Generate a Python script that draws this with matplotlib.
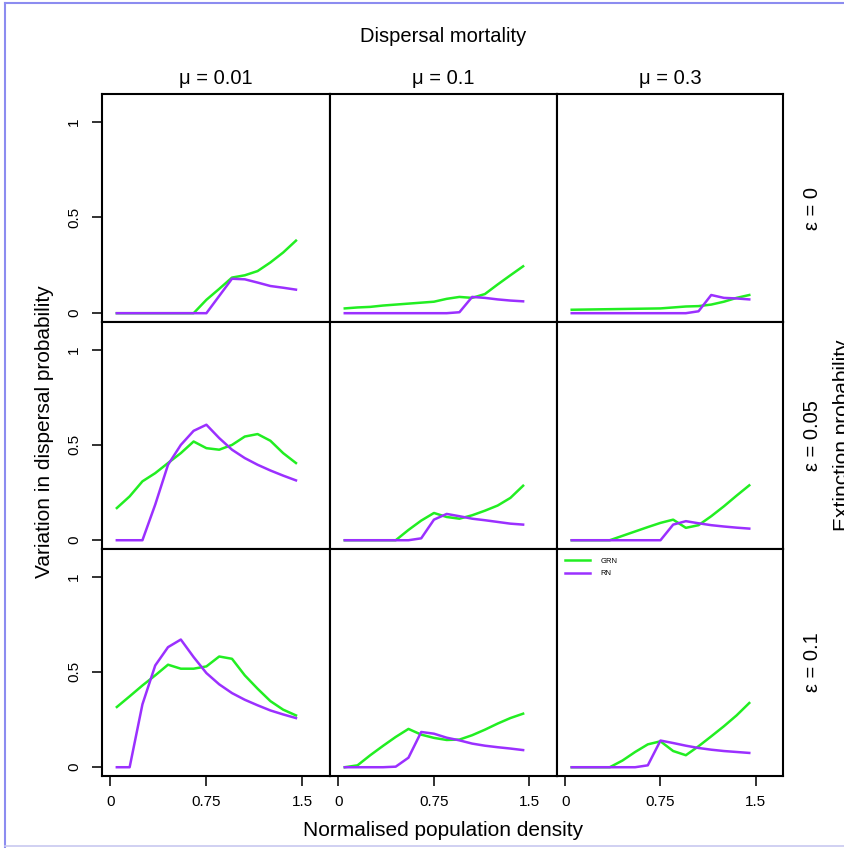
import matplotlib.pyplot as plt
from matplotlib.lines import Line2D

plt.rcParams['font.family'] = ['Liberation Sans', 'DejaVu Sans']

# density values where each curve was evaluated
density = [0.05, 0.15, 0.25, 0.35, 0.45, 0.55, 0.65, 0.75, 0.85, 0.95, 1.05, 1.15, 1.25, 1.35, 1.45]

mu_labels = ['μ = 0.01', 'μ = 0.1', 'μ = 0.3']
eps_labels = ['ε = 0', 'ε = 0.05', 'ε = 0.1']
x_ticks = [0, 0.75, 1.5]
x_ticklabels = ['0', '0.75', '1.5']
y_ticks = [0, 0.5, 1]
y_ticklabels = ['0', '0.5', '1']

# extinction probability 0
grn_e0_mu001 = [0, 0, 0, 0, 0, 0, 0, 0.07, 0.127, 0.186, 0.198, 0.22, 0.265, 0.317, 0.379]
rn_e0_mu001 = [0, 0, 0, 0, 0, 0, 0, 0, 0.09, 0.18, 0.177, 0.16, 0.142, 0.133, 0.123]
grn_e0_mu01 = [0.025, 0.03, 0.033, 0.04, 0.045, 0.05, 0.055, 0.06, 0.075, 0.085, 0.08, 0.10, 0.15, 0.198, 0.245]
rn_e0_mu01 = [0, 0, 0, 0, 0, 0, 0, 0, 0, 0.005, 0.085, 0.08, 0.072, 0.066, 0.062]
grn_e0_mu03 = [0.018, 0.019, 0.02, 0.021, 0.022, 0.023, 0.024, 0.025, 0.03, 0.035, 0.037, 0.045, 0.06, 0.08, 0.095]
rn_e0_mu03 = [0, 0, 0, 0, 0, 0, 0, 0, 0, 0, 0.01, 0.095, 0.08, 0.077, 0.072]

# extinction probability 0.05
grn_e005_mu001 = [0.169, 0.23, 0.309, 0.352, 0.405, 0.457, 0.518, 0.483, 0.475, 0.5, 0.544, 0.557, 0.522, 0.457, 0.405]
rn_e005_mu001 = [0, 0, 0, 0.187, 0.396, 0.5, 0.574, 0.606, 0.536, 0.475, 0.431, 0.396, 0.366, 0.339, 0.314]
grn_e005_mu01 = [0, 0, 0, 0, 0, 0.054, 0.103, 0.143, 0.122, 0.113, 0.131, 0.155, 0.182, 0.222, 0.286]
rn_e005_mu01 = [0, 0, 0, 0, 0, 0, 0.01, 0.108, 0.138, 0.126, 0.113, 0.105, 0.096, 0.087, 0.082]
grn_e005_mu03 = [0, 0, 0, 0, 0.023, 0.046, 0.069, 0.091, 0.108, 0.065, 0.079, 0.126, 0.178, 0.234, 0.288]
rn_e005_mu03 = [0, 0, 0, 0, 0, 0, 0, 0, 0.082, 0.1, 0.089, 0.079, 0.072, 0.066, 0.061]

# extinction probability 0.1
grn_e01_mu001 = [0.316, 0.372, 0.429, 0.482, 0.538, 0.517, 0.517, 0.529, 0.581, 0.569, 0.482, 0.412, 0.347, 0.302, 0.272]
rn_e01_mu001 = [0, 0, 0.33, 0.534, 0.63, 0.67, 0.578, 0.494, 0.435, 0.389, 0.354, 0.325, 0.298, 0.277, 0.258]
grn_e01_mu01 = [0, 0.01, 0.063, 0.112, 0.159, 0.201, 0.171, 0.154, 0.143, 0.145, 0.168, 0.197, 0.229, 0.258, 0.281]
rn_e01_mu01 = [0, 0, 0, 0, 0.003, 0.05, 0.185, 0.176, 0.155, 0.141, 0.124, 0.113, 0.105, 0.098, 0.09]
grn_e01_mu03 = [0, 0, 0, 0, 0.035, 0.08, 0.12, 0.136, 0.085, 0.063, 0.11, 0.162, 0.215, 0.272, 0.337]
rn_e01_mu03 = [0, 0, 0, 0, 0, 0, 0.01, 0.14, 0.127, 0.113, 0.101, 0.092, 0.085, 0.08, 0.075]

panels = [
    [(grn_e0_mu001, rn_e0_mu001), (grn_e0_mu01, rn_e0_mu01), (grn_e0_mu03, rn_e0_mu03)],
    [(grn_e005_mu001, rn_e005_mu001), (grn_e005_mu01, rn_e005_mu01), (grn_e005_mu03, rn_e005_mu03)],
    [(grn_e01_mu001, rn_e01_mu001), (grn_e01_mu01, rn_e01_mu01), (grn_e01_mu03, rn_e01_mu03)],
]

GREEN = '#22ee22'
PURPLE = '#9b30ff'

W, H = 845, 848
fig = plt.figure(figsize=(W / 100, H / 100), dpi=100)

# panel edges in pixels
col_edges = [102, 330, 557, 783]
row_edges = [94, 322, 549, 776]

for i in range(3):
    for j in range(3):
        x0, x1 = col_edges[j], col_edges[j + 1]
        y0, y1 = row_edges[i], row_edges[i + 1]
        ax = fig.add_axes([x0 / W, 1 - y1 / H, (x1 - x0) / W, (y1 - y0) / H])
        grn, rn = panels[i][j]
        ax.plot(density, grn, color=GREEN, lw=1.8, label='GRN')
        ax.plot(density, rn, color=PURPLE, lw=1.8, label='RN')
        ax.set_xlim(-0.066, 1.716)
        ax.set_ylim(-0.046, 1.145)
        for s in ax.spines.values():
            s.set_linewidth(1.5)
        ax.tick_params(length=7, width=1.3, labelsize=11, color='#222222')
        if j == 0:
            ax.set_yticks(y_ticks)
            ax.set_yticklabels(y_ticklabels, rotation=90, va='center')
            ax.tick_params(axis='y', pad=8)
        else:
            ax.set_yticks([])
        if i == 2:
            ax.set_xticks(x_ticks)
            ax.set_xticklabels(x_ticklabels)
            ax.tick_params(axis='x', pad=7)
        else:
            ax.set_xticks([])
        if i == 2 and j == 2:
            ax.legend(loc='upper left', fontsize=5.5, frameon=False,
                      handlelength=3.2, handletextpad=1.4, labelspacing=0.7,
                      borderaxespad=0.5, borderpad=0.6)
        if i == 0:
            fig.text((x0 + x1) / 2 / W, 1 - 78 / H, mu_labels[j],
                     ha='center', va='center', fontsize=14.5)
        if j == 2:
            fig.text(813 / W, 1 - (y0 + y1) / 2 / H, eps_labels[i],
                     ha='center', va='center', rotation=90, fontsize=14.5)

fig.text(443 / W, 1 - 37 / H, 'Dispersal mortality', ha='center', va='center', fontsize=14.5)
fig.text(443 / W, 1 - 830 / H, 'Normalised population density', ha='center', va='center', fontsize=15)
fig.text(45 / W, 1 - 432 / H, 'Variation in dispersal probability', ha='center', va='center',
         rotation=90, fontsize=15)
fig.text(843 / W, 1 - 435 / H, 'Extinction probability', ha='center', va='center',
         rotation=90, fontsize=15)

# light blue page frame around the figure
frame = '#8c8cf0'
fig.add_artist(Line2D([5 / W, 5 / W], [0, 1 - 3 / H], color=frame, lw=1.5))
fig.add_artist(Line2D([5 / W, 1], [1 - 3 / H, 1 - 3 / H], color=frame, lw=1.5))
fig.add_artist(Line2D([5 / W, 1], [2 / H, 2 / H], color='#c8c8f0', lw=1.2))

fig.savefig('out.png', dpi=100)
